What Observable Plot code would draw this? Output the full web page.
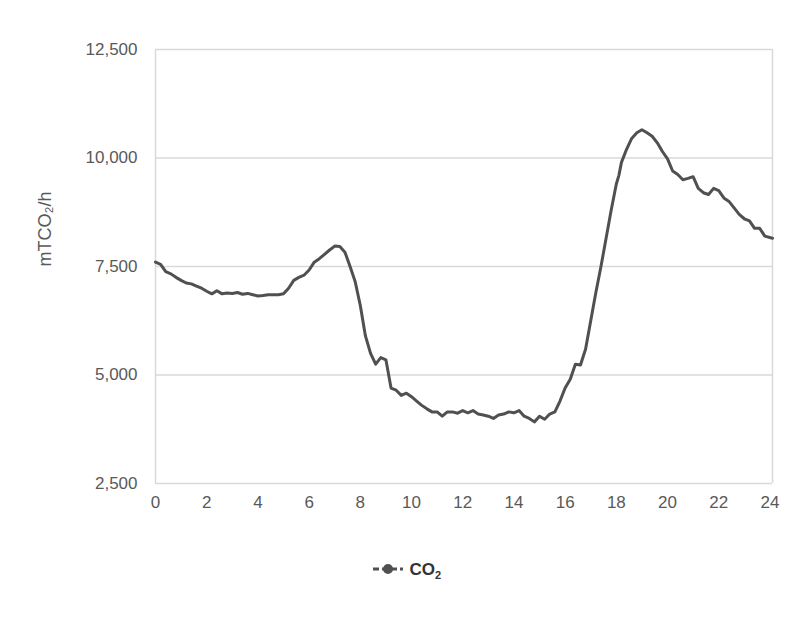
<!DOCTYPE html>
<html><head><meta charset="utf-8">
<script src="https://cdn.jsdelivr.net/npm/d3@7"></script>
<script src="https://cdn.jsdelivr.net/npm/@observablehq/plot@0.6"></script>
<style>body{margin:0;background:#fff;font-family:Arial,"Liberation Sans",sans-serif}
#legend{text-align:center;font-size:17px;font-weight:bold;color:#333;margin-top:30px;margin-left:0px}
</style></head><body><div id="chart"></div>
<div id="legend"><svg width="34" height="16" style="vertical-align:-2px"><line x1="2" y1="8" x2="32" y2="8" stroke="#505050" stroke-width="3" stroke-dasharray="6,3"/><circle cx="17" cy="8" r="5" fill="#505050"/></svg> CO<sub style="font-size:11px">2</sub></div>
<script>
const hours = [0,0.2,0.4,0.6,0.8,1.0,1.2,1.4,1.6,1.8,2.0,2.2,2.4,2.6,2.8,3.0,3.2,3.4,3.6,3.8,4.0,4.2,4.4,4.6,4.8,5.0,5.2,5.4,5.6,5.8,6.0,6.2,6.4,6.6,6.8,7.0,7.2,7.4,7.6,7.8,8.0,8.2,8.4,8.6,8.8,9.0,9.2,9.4,9.6,9.8,10.0,10.2,10.4,10.6,10.8,11.0,11.2,11.4,11.6,11.8,12.0,12.2,12.4,12.6,12.8,13.0,13.2,13.4,13.6,13.8,14.0,14.2,14.4,14.6,14.8,15.0,15.2,15.4,15.6,15.8,16.0,16.2,16.4,16.6,16.8,17.0,17.2,17.4,17.6,17.8,18.0,18.1,18.2,18.4,18.6,18.8,19.0,19.2,19.4,19.6,19.8,20.0,20.2,20.4,20.6,20.8,21.0,21.2,21.4,21.6,21.8,22.0,22.2,22.4,22.6,22.8,23.0,23.2,23.4,23.6,23.8,24.1];
const co2 = [7600,7550,7380,7330,7250,7180,7120,7100,7050,7000,6930,6870,6940,6870,6890,6880,6900,6860,6880,6850,6820,6830,6850,6850,6850,6870,7000,7180,7250,7300,7420,7600,7680,7780,7880,7970,7960,7830,7500,7150,6600,5900,5500,5250,5400,5350,4700,4650,4530,4580,4500,4400,4300,4220,4150,4150,4050,4150,4150,4120,4180,4130,4180,4100,4080,4050,4000,4080,4100,4150,4130,4180,4050,4000,3920,4050,3980,4100,4150,4400,4700,4900,5250,5230,5600,6250,6900,7500,8150,8800,9400,9600,9900,10200,10450,10580,10650,10580,10500,10350,10150,9980,9700,9620,9500,9530,9570,9300,9200,9160,9300,9250,9080,9000,8850,8700,8600,8550,8380,8380,8200,8150];
const xTicks = [0,2,4,6,8,10,12,14,16,18,20,22,24];
const yTicks = [2500,5000,7500,10000,12500];
const data = hours.map((h,i)=>({h, v: co2[i]}));
const chart = Plot.plot({
  width: 812, height: 530,
  marginLeft: 155, marginRight: 40, marginTop: 49, marginBottom: 47,
  style:{fontSize:"17px", color:"#595959", fontFamily:"Arial, 'Liberation Sans', sans-serif"},
  x:{domain:[0,24.1], ticks: xTicks, tickSize:0, tickPadding:12, label:null},
  y:{domain:[2500,12500], ticks: yTicks, tickSize:0, tickPadding:18, tickFormat: d3.format(","), label:null},
  marks:[
    Plot.gridY(yTicks,{stroke:"#d9d9d9", strokeOpacity:1, strokeWidth:1.5}),
    Plot.ruleX([0, 24.1],{stroke:"#d9d9d9", strokeWidth:1.5}),
    Plot.axisX({ticks:xTicks, tickSize:0, tickPadding:12}),
    Plot.axisY({ticks:yTicks, tickSize:0, tickPadding:18, tickFormat:d3.format(","), label:null}),
    Plot.line(data,{x:"h", y:"v", stroke:"#505050", strokeWidth:3, curve:"linear"}),
    Plot.text(["mTCO₂/h"],{frameAnchor:"left", dx:-110, rotate:-90, fontSize:18, fill:"#595959"})
  ]
});
document.getElementById("chart").appendChild(chart);
</script></body></html>
